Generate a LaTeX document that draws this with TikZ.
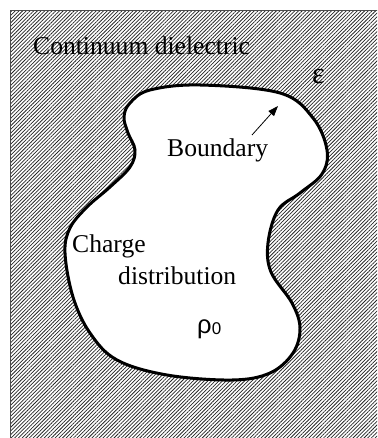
\documentclass[tikz,border=0pt]{standalone}
\usepackage{fontspec}
\setmainfont{Liberation Serif}
\newfontfamily\greeksans{Liberation Sans}
\usetikzlibrary{arrows.meta,patterns.meta}
\tikzset{
  hatch/.style={pattern={Lines[angle=45,distance=2.6pt,line width=0.75pt]}, pattern color=black!85},
  bnd/.style={line width=3pt, line join=round},
  lbl/.style={font=\fontsize{25.6}{30}\selectfont, inner sep=0pt, anchor=base west},
  parr/.style={-{Triangle[length=3.6mm,width=2.6mm]}, line width=0.8pt},
}

\begin{document}
\begin{tikzpicture}[x=1pt,y=-1pt]
\useasboundingbox (0,0) rectangle (377,438);
\clip (0,0) rectangle (377,438);
% dielectric medium
\draw[hatch, line width=1pt, draw=black!70] (10,11) rectangle (390,450);
% solute cavity
\filldraw[bnd, fill=white] plot[smooth cycle, tension=0.6] coordinates {
  (200,85) (280,93) (313,118) (327,150) (322,174) (300,193) (278,210)
  (268,243) (271,272) (292,303) (300,328) (293,353) (270,373) (232,380)
  (167,375) (117,360) (90,333) (73,297) (65,253) (70,228) (87,207)
  (110,187) (130,167) (135,150) (128,133) (124,117) (130,103) (150,90)};
\node[lbl] (diel) at (33,55) {Continuum dielectric};
\node[lbl, font=\fontsize{30}{34}\selectfont] (eps) at (312,84) {ε};
\node[lbl] (bound) at (167,157) {Boundary};
\node[lbl] (charge) at (72,252) {Charge};
\node[lbl] (distr) at (118,284) {distribution};
\node[lbl, font=\greeksans\fontsize{25.6}{30}\selectfont] (rho) at (197,333) {ρ\raisebox{-1pt}{\fontsize{17}{20}\selectfont 0}};
\coordinate (tail) at (252,135);
\coordinate (tip) at (278,106);
\draw[parr] (tail) -- (tip);
\end{tikzpicture}
\end{document}
